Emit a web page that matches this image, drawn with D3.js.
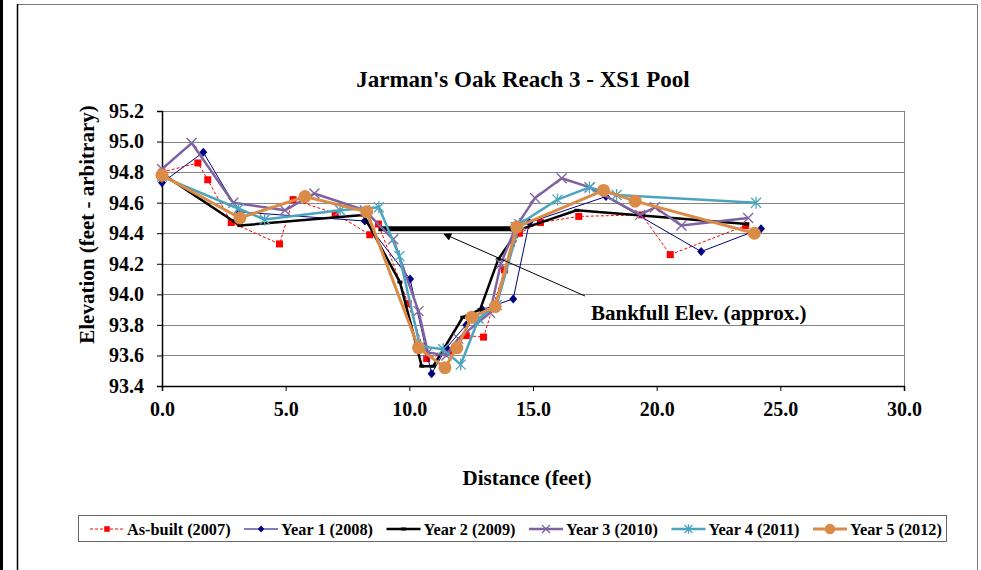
<html>
<head>
<script src="https://d3js.org/d3.v7.min.js"></script>
<style>
  body { margin: 0; background: #fff; }
  text { font-family: "Liberation Serif", "Times New Roman", serif; font-weight: bold; fill: #000; }
</style>
</head>
<body>
<div id="chart"></div>
<script>
// ---- data (distance ft, elevation ft) ----
var asBuilt = [[0,94.80],[1.45,94.86],[1.85,94.75],[2.8,94.47],[4.75,94.33],[5.3,94.62],[7.0,94.53],[8.4,94.39],[8.75,94.46],[9.95,93.94],[10.7,93.58],[11.6,93.62],[12.3,93.73],[13.0,93.72],[13.85,94.16],[14.45,94.40],[15.3,94.47],[16.85,94.51],[19.4,94.52],[20.55,94.26],[23.6,94.45]];
var year1 = [[0,94.73],[1.67,94.93],[3.1,94.54],[8.2,94.48],[10.03,94.10],[10.9,93.48],[11.5,93.65],[12.3,93.80],[12.95,93.90],[14.2,93.97],[14.85,94.47],[17.95,94.64],[21.8,94.28],[24.22,94.43]];
var year2 = [[0,94.79],[3.15,94.45],[8.14,94.52],[9.62,94.08],[10.5,93.53],[10.97,93.53],[12.16,93.85],[12.86,93.90],[13.6,94.23],[14.4,94.42],[16.77,94.55],[23.64,94.46]];
var year3 = [[0,94.82],[1.2,94.99],[2.88,94.60],[4.97,94.55],[6.16,94.66],[8.2,94.55],[9.35,94.36],[10.37,93.89],[10.75,93.62],[11.5,93.60],[11.98,93.71],[13.26,93.88],[13.7,94.20],[14.3,94.44],[15.08,94.63],[16.16,94.76],[17.3,94.70],[19.33,94.52],[19.93,94.57],[21.0,94.45],[23.7,94.50]];
var year4 = [[0,94.77],[3.1,94.56],[4.15,94.49],[7.2,94.55],[8.77,94.57],[9.6,94.25],[10.43,93.66],[11.37,93.64],[12.08,93.54],[12.8,93.84],[13.53,93.93],[14.45,94.46],[15.99,94.62],[17.28,94.70],[18.38,94.65],[24.02,94.60]];
var year5 = [[0,94.78],[3.15,94.50],[5.78,94.64],[8.28,94.54],[10.37,93.65],[11.44,93.52],[11.92,93.65],[12.52,93.85],[13.47,93.92],[14.34,94.44],[17.85,94.68],[19.13,94.61],[23.95,94.40]];
var bankfull = [[8.75,94.43],[14.4,94.43]];

var seriesNames = ["As-built (2007)","Year 1 (2008)","Year 2 (2009)","Year 3 (2010)","Year 4 (2011)","Year 5 (2012)"];
var seriesData = [asBuilt, year1, year2, year3, year4, year5];
var yTicks = [93.4,93.6,93.8,94.0,94.2,94.4,94.6,94.8,95.0,95.2];
var xTicks = [0,5,10,15,20,25,30];

var styles = [
  {color:"#FF0000", width:1, dash:"3,2", marker:"square"},
  {color:"#000080", width:1, dash:null, marker:"diamond"},
  {color:"#000000", width:2.5, dash:null, marker:"dash"},
  {color:"#7F63A1", width:2.5, dash:null, marker:"x"},
  {color:"#4BA5BE", width:2.5, dash:null, marker:"star"},
  {color:"#DB8B48", width:3, dash:null, marker:"circle"}
];

var W = 981, H = 570;
var margin = {top: 111, left: 162, right: 77, bottom: 184};
var width = W - margin.left - margin.right,
    height = H - margin.top - margin.bottom;

var svg = d3.select("#chart").append("svg")
    .attr("width", W).attr("height", H);

// outer frame
svg.append("rect").attr("x", 0).attr("y", 0).attr("width", 3).attr("height", H).attr("fill", "#000");
svg.append("path").attr("d", "M17.5," + H + "V4.5H977.5V" + H)
    .attr("fill", "none").attr("stroke", "#777").attr("stroke-width", 1);
svg.append("line").attr("x1", 17.5).attr("x2", 17.5).attr("y1", 4).attr("y2", H)
    .attr("stroke", "#000").attr("stroke-width", 1.5);

var x = d3.scaleLinear().domain([0, 30]).range([margin.left, margin.left + width]);
var y = d3.scaleLinear().domain([93.4, 95.2]).range([margin.top + height, margin.top]);

// gridlines
svg.append("g").selectAll("line").data(yTicks).enter().append("line")
    .attr("x1", x(0)).attr("x2", x(30))
    .attr("y1", function(d) { return Math.round(y(d)) + 0.5; })
    .attr("y2", function(d) { return Math.round(y(d)) + 0.5; })
    .attr("stroke", "#858585").attr("stroke-width", 1);
// right border of plot
svg.append("line").attr("x1", Math.round(x(30)) + 0.5).attr("x2", Math.round(x(30)) + 0.5)
    .attr("y1", y(95.2)).attr("y2", y(93.4)).attr("stroke", "#858585");

// axes
var yAxis = svg.append("g")
    .attr("transform", "translate(" + x(0) + ",0)")
    .call(d3.axisLeft(y).tickValues(yTicks).tickFormat(d3.format(".1f")).tickSize(5).tickPadding(13));
var xAxis = svg.append("g")
    .attr("transform", "translate(0," + y(93.4) + ")")
    .call(d3.axisBottom(x).tickValues(xTicks).tickFormat(d3.format(".1f")).tickSize(5).tickPadding(11));
[yAxis, xAxis].forEach(function(a) {
  a.select(".domain").attr("stroke", "#000").attr("stroke-width", 1.5);
  a.selectAll(".tick line").attr("stroke", "#000");
  a.selectAll(".tick text").style("font-size", "20px").style("font-family", "Liberation Serif").style("font-weight", "bold");
});

// bankfull line
var line = d3.line().x(function(d) { return x(d[0]); }).y(function(d) { return y(d[1]); });
svg.append("path").datum(bankfull).attr("d", line)
    .attr("fill", "none").attr("stroke", "#000").attr("stroke-width", 5);

function drawMarker(g, type, color, px, py, k) {
  k = k || 1;
  if (type == "square") {
    g.append("rect").attr("x", px - 3.5 * k).attr("y", py - 3.5 * k).attr("width", 7 * k).attr("height", 7 * k).attr("fill", color);
  } else if (type == "diamond") {
    g.append("path").attr("d", "M" + px + "," + (py - 4.5 * k) + "L" + (px + 4 * k) + "," + py + "L" + px + "," + (py + 4.5 * k) + "L" + (px - 4 * k) + "," + py + "Z").attr("fill", color);
  } else if (type == "dash") {
    g.append("rect").attr("x", px - 2.5).attr("y", py - 1.5).attr("width", 5).attr("height", 3).attr("fill", color);
  } else if (type == "x") {
    var s = 5 * k;
    g.append("path").attr("d", "M" + (px - s) + "," + (py - s) + "L" + (px + s) + "," + (py + s) + "M" + (px + s) + "," + (py - s) + "L" + (px - s) + "," + (py + s))
      .attr("stroke", color).attr("stroke-width", 1.3);
  } else if (type == "star") {
    var s2 = 5 * k;
    g.append("path").attr("d", "M" + (px - s2) + "," + (py - s2) + "L" + (px + s2) + "," + (py + s2) + "M" + (px + s2) + "," + (py - s2) + "L" + (px - s2) + "," + (py + s2) + "M" + px + "," + (py - 6 * k) + "L" + px + "," + (py + 6 * k))
      .attr("stroke", color).attr("stroke-width", 1.3);
  } else if (type == "circle") {
    g.append("circle").attr("cx", px).attr("cy", py).attr("r", 6.5 * k).attr("fill", color);
  }
}

// series
seriesData.forEach(function(data, i) {
  var st = styles[i];
  var g = svg.append("g");
  g.append("path").datum(data).attr("d", line)
    .attr("fill", "none").attr("stroke", st.color).attr("stroke-width", st.width)
    .attr("stroke-dasharray", st.dash).attr("stroke-linejoin", "round");
  data.forEach(function(d) { drawMarker(g, st.marker, st.color, x(d[0]), y(d[1])); });
});

// annotation arrow
svg.append("defs").append("marker").attr("id", "arrow")
    .attr("viewBox", "0 0 10 10").attr("refX", 9).attr("refY", 5)
    .attr("markerWidth", 10).attr("markerHeight", 8).attr("orient", "auto")
    .attr("markerUnits", "userSpaceOnUse")
    .append("path").attr("d", "M0,0L10,5L0,10Z").attr("fill", "#000");
svg.append("line").attr("x1", 585).attr("y1", 296).attr("x2", 444).attr("y2", 234)
    .attr("stroke", "#000").attr("stroke-width", 1).attr("marker-end", "url(#arrow)");
svg.append("text").attr("x", 591).attr("y", 320).style("font-size", "21px").text("Bankfull Elev. (approx.)");

// title and axis labels
svg.append("text").attr("x", 523).attr("y", 87).attr("text-anchor", "middle")
    .style("font-size", "23px").text("Jarman's Oak Reach 3 - XS1 Pool");
svg.append("text").attr("transform", "translate(94," + (margin.top + height / 2 - 24) + ") rotate(-90)")
    .attr("text-anchor", "middle").style("font-size", "21px").text("Elevation (feet - arbitrary)");
svg.append("text").attr("x", 527).attr("y", 485).attr("text-anchor", "middle")
    .style("font-size", "21px").text("Distance (feet)");

// legend
var legend = svg.append("g");
legend.append("rect").attr("x", 78.5).attr("y", 515.5).attr("width", 868).attr("height", 26)
    .attr("fill", "#fff").attr("stroke", "#666");
var lx = 90, ly = 529;
seriesNames.forEach(function(name, i) {
  var st = styles[i];
  var g = legend.append("g");
  g.append("line").attr("x1", lx).attr("x2", lx + 34).attr("y1", ly).attr("y2", ly)
    .attr("stroke", st.color).attr("stroke-width", st.width).attr("stroke-dasharray", st.dash);
  drawMarker(g, st.marker, st.color, lx + 17, ly, 0.8);
  var t = g.append("text").attr("x", lx + 37).attr("y", ly + 6).style("font-size", "16.3px").text(name);
  lx = lx + 37 + t.node().getComputedTextLength() + 13.5;
});
</script>
</body>
</html>
